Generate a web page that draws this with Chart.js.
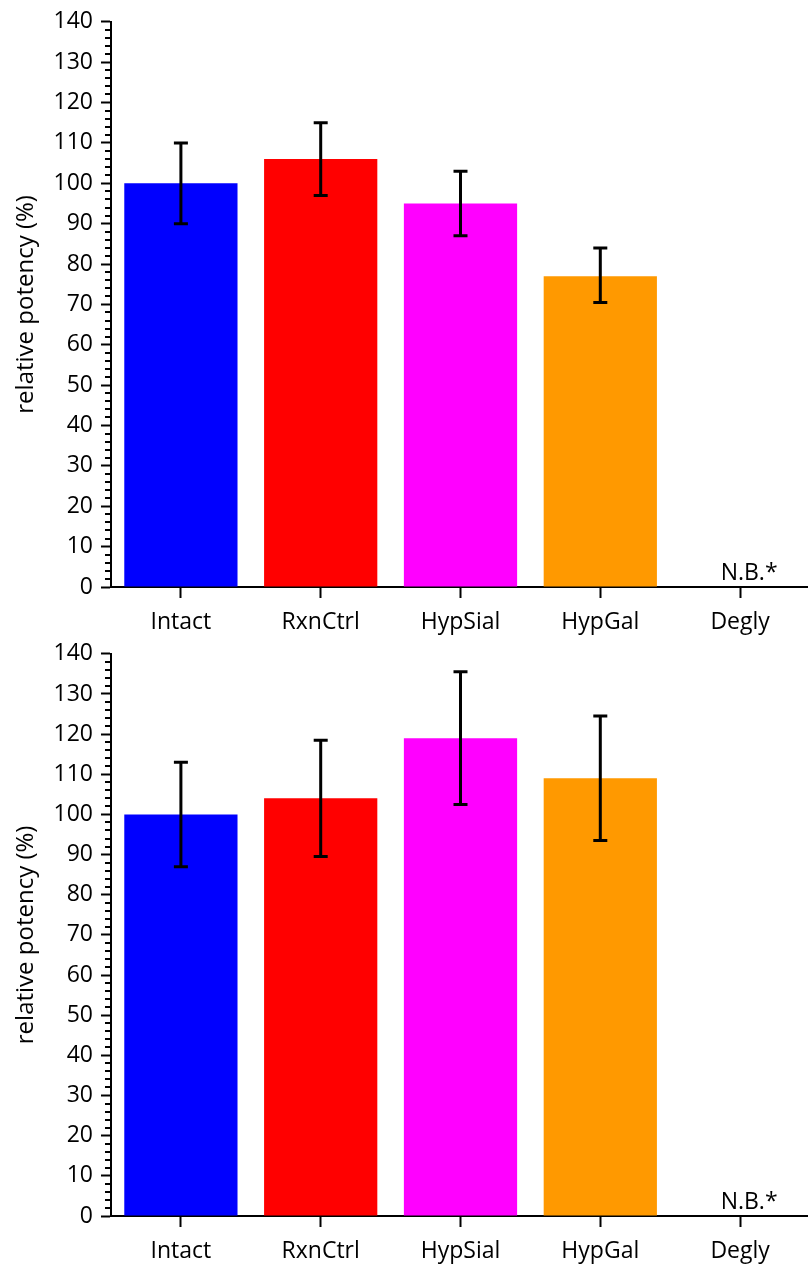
<!DOCTYPE html>
<html>
<head>
<meta charset="utf-8">
<script src="https://cdn.jsdelivr.net/npm/chart.js@4"></script>
<style>
  body { margin: 0; background: #fff; overflow: hidden; }
  .box { position: relative; width: 810px; }
  #top_box { height: 640px; }
  #bottom_box { height: 632px; margin-top: -8px; }
</style>
</head>
<body>
<div class="box" id="top_box"><canvas id="potency_top_canvas"></canvas></div>
<div class="box" id="bottom_box"><canvas id="potency_bottom_canvas"></canvas></div>
<script>
const categories = ['Intact', 'RxnCtrl', 'HypSial', 'HypGal', 'Degly'];
const barColors = ['#0000FF', '#FF0000', '#FF00FF', '#FF9900', '#FFFFFF'];
const yTickValues = [0, 10, 20, 30, 40, 50, 60, 70, 80, 90, 100, 110, 120, 130, 140];
const yTitle = 'relative potency (%)';
const noBindingLabel = 'N.B.*';

// upper panel
const topValues = [100, 106, 95, 77, 0];
const topErrLow = [90, 97, 87, 70.5, null];
const topErrHigh = [110, 115, 103, 84, null];

// lower panel
const bottomValues = [100, 104, 119, 109, 0];
const bottomErrLow = [87, 89.5, 102.5, 93.5, null];
const bottomErrHigh = [113, 118.5, 135.5, 124.5, null];

const fontFamily = "'Open Sans', sans-serif";

// minor ticks, error bars and the N.B. note
const extrasPlugin = {
    id: 'extras',
    afterDatasetsDraw(chart, args, opts) {
        const ctx = chart.ctx;
        const xs = chart.scales.x;
        const ys = chart.scales.y;
        const left = chart.chartArea.left;
        ctx.save();
        ctx.strokeStyle = '#000';
        ctx.lineWidth = 2;
        for (let v = ys.min; v <= ys.max; v += 2) {
            if (v % 10 === 0) continue;
            const py = Math.round(ys.getPixelForValue(v));
            ctx.beginPath();
            ctx.moveTo(left - 6, py);
            ctx.lineTo(left, py);
            ctx.stroke();
        }
        ctx.lineWidth = 3;
        opts.low.forEach(function(lo, i) {
            const hi = opts.high[i];
            const px = xs.getPixelForValue(i);
            if (lo === null) {
                ctx.fillStyle = '#000';
                ctx.font = '23px ' + fontFamily;
                ctx.textAlign = 'center';
                ctx.textBaseline = 'bottom';
                ctx.fillText(noBindingLabel, px + 9, ys.getPixelForValue(0) - 2);
                return;
            }
            const y1 = ys.getPixelForValue(lo);
            const y2 = ys.getPixelForValue(hi);
            ctx.beginPath();
            ctx.moveTo(px, y1);
            ctx.lineTo(px, y2);
            ctx.moveTo(px - 7, y1);
            ctx.lineTo(px + 7, y1);
            ctx.moveTo(px - 7, y2);
            ctx.lineTo(px + 7, y2);
            ctx.stroke();
        });
        ctx.restore();
    }
};

function makeChart(id, values, low, high, padTop, xHeight) {
    return new Chart(document.getElementById(id), {
        type: 'bar',
        data: {
            labels: categories,
            datasets: [{
                data: values,
                backgroundColor: barColors,
                borderWidth: 0,
                categoryPercentage: 1,
                barPercentage: 0.81
            }]
        },
        options: {
            responsive: true,
            maintainAspectRatio: false,
            animation: false,
            layout: {
                padding: { top: padTop, left: 0, right: 0, bottom: 0 }
            },
            scales: {
                y: {
                    min: 0,
                    max: 140,
                    afterBuildTicks: function(scale) {
                        scale.ticks = yTickValues.map(v => ({ value: v }));
                    },
                    ticks: {
                        color: '#000',
                        padding: 8,
                        font: { family: fontFamily, size: 23 }
                    },
                    grid: {
                        drawOnChartArea: false,
                        tickLength: 10,
                        tickColor: '#000',
                        tickWidth: 2
                    },
                    border: { color: '#000', width: 2 },
                    title: {
                        display: true,
                        text: yTitle,
                        color: '#000',
                        padding: { top: 12, bottom: 0 },
                        font: { family: fontFamily, size: 24 }
                    },
                    afterFit: function(scale) {
                        scale.width = 111;
                    }
                },
                x: {
                    ticks: {
                        color: '#000',
                        padding: 11,
                        font: { family: fontFamily, size: 23 }
                    },
                    grid: {
                        offset: false,
                        drawOnChartArea: false,
                        tickLength: 11,
                        tickColor: '#000',
                        tickWidth: 2
                    },
                    border: { color: '#000', width: 2 },
                    afterFit: function(scale) {
                        scale.height = xHeight;
                    }
                }
            },
            plugins: {
                legend: { display: false },
                tooltip: { enabled: false },
                extras: { low: low, high: high }
            }
        },
        plugins: [extrasPlugin]
    });
}

makeChart('potency_top_canvas', topValues, topErrLow, topErrHigh, 21, 53);
makeChart('potency_bottom_canvas', bottomValues, bottomErrLow, bottomErrHigh, 14, 48);
</script>
</body>
</html>
